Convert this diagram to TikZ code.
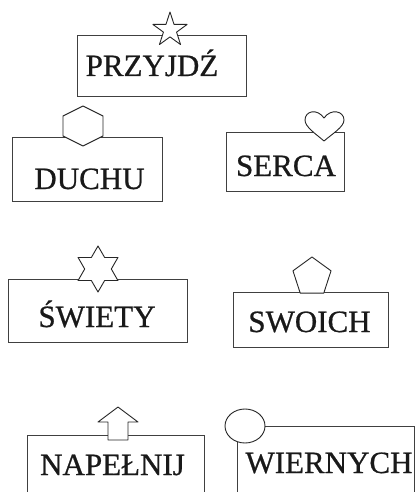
\documentclass[tikz,border=0pt]{standalone}
\usepackage{fontspec}
\setmainfont{Liberation Serif}
\newfontfamily\lblfont{Liberation Serif}[FakeBold=0.7]
\begin{document}
\begin{tikzpicture}[x=1pt,y=-1pt,
  box/.style={draw=black!75, line width=0.9pt, inner sep=0pt},
  lbl/.style={anchor=base, inner sep=0pt, font=\lblfont\fontsize{31}{31}\selectfont, text=black!90},
  deco/.style={draw=black!85, line width=0.9pt, fill=white, line join=round}]
\useasboundingbox (0,0) rectangle (417,492);
\clip (0,0) rectangle (417,492);
\fill[white] (0,0) rectangle (417,492);
% boxes
\node[box, minimum width=169pt, minimum height=61pt] (b1) at (161.5,65.5) {};
\node[box, minimum width=150pt, minimum height=64pt] (b2) at (87,169) {};
\node[box, minimum width=118pt, minimum height=59pt] (b3) at (285,161.5) {};
\node[box, minimum width=179pt, minimum height=63pt] (b4) at (97.5,310.5) {};
\node[box, minimum width=155pt, minimum height=55pt] (b5) at (310.5,319.5) {};
\node[box, minimum width=177pt, minimum height=75pt] (b6) at (115.5,472.5) {};
\node[box, minimum width=177pt, minimum height=84pt] (b7) at (325.5,468) {};
% labels
\node[lbl] (t1) at (152,76) {PRZYJDŹ};
\node[lbl] (t2) at (89.5,189) {DUCHU};
\node[lbl] (t3) at (286,176) {SERCA};
\node[lbl] (t4) at (97,327) {ŚWIETY};
\node[lbl] (t5) at (309.5,332) {SWOICH};
\node[lbl] (t6) at (112.5,475) {NAPEŁNIJ};
\node[lbl] (t7) at (329,473) {WIERNYCH};
% five-point star
\draw[deco, shift={(170,30)}] (-90:18) -- (-54:6.9) -- (-18:18) -- (18:6.9) -- (54:18) -- (90:6.9) -- (126:18) -- (162:6.9) -- (198:18) -- (234:6.9) -- cycle;
% hexagon
\draw[deco] (83,106) -- (103,116) -- (103,136) -- (83,146) -- (63,136) -- (63,116) -- cycle;
% heart
\draw[deco] (324,141) .. controls (316,134) and (305,127) .. (305,120) .. controls (305,111) and (317,108) .. (324,118) .. controls (331,108) and (344,111) .. (344,120) .. controls (344,127) and (332,134) .. (324,141) -- cycle;
% six-point star
\draw[deco, shift={(98,269)}] (-90:23) -- (-60:13.3) -- (-30:23) -- (0:13.3) -- (30:23) -- (60:13.3) -- (90:23) -- (120:13.3) -- (150:23) -- (180:13.3) -- (210:23) -- (240:13.3) -- cycle;
% pentagon
\draw[deco, shift={(312,277)}] (-90:20) -- (-18:20) -- (54:20) -- (126:20) -- (198:20) -- cycle;
% block arrow
\draw[deco] (118,407) -- (138,422) -- (128,422) -- (128,440) -- (108,440) -- (108,422) -- (98,422) -- cycle;
% circle
\draw[deco] (245,426) ellipse [x radius=20, y radius=17];
\end{tikzpicture}
\end{document}
